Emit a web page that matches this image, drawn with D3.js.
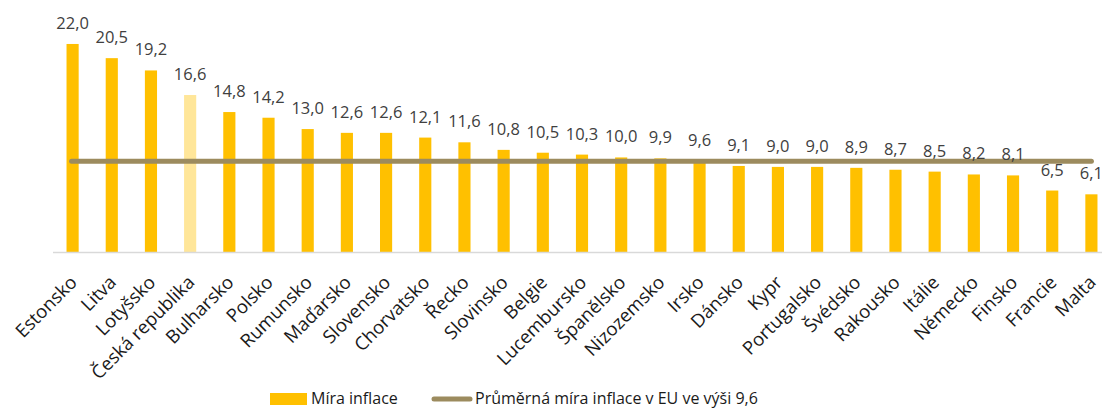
<!DOCTYPE html>
<html>
<head>
<meta charset="utf-8">
<script src="https://cdn.jsdelivr.net/npm/d3@7"></script>
<style>
    body { margin: 0; background: #fff; }
    svg { display: block; font-family: "Open Sans", sans-serif; }
    .value { font-size: 16.5px; fill: #404040; text-anchor: middle; }
    .cat { font-size: 18.5px; fill: #1a1a1a; text-anchor: end; }
    .legend text { font-size: 16px; fill: #1a1a1a; }
</style>
</head>
<body>
<div id="chart"></div>
<script>
const countries = ["Estonsko", "Litva", "Lotyšsko", "Česká republika", "Bulharsko", "Polsko",
    "Rumunsko", "Maďarsko", "Slovensko", "Chorvatsko", "Řecko", "Slovinsko", "Belgie",
    "Lucembursko", "Španělsko", "Nizozemsko", "Irsko", "Dánsko", "Kypr", "Portugalsko",
    "Švédsko", "Rakousko", "Itálie", "Německo", "Finsko", "Francie", "Malta"];
const inflation = [22.0, 20.5, 19.2, 16.6, 14.8, 14.2, 13.0, 12.6, 12.6, 12.1, 11.6, 10.8, 10.5,
    10.3, 10.0, 9.9, 9.6, 9.1, 9.0, 9.0, 8.9, 8.7, 8.5, 8.2, 8.1, 6.5, 6.1];
const euAverage = 9.6;
const highlight = "Česká republika";
const seriesNames = ["Míra inflace", "Průměrná míra inflace v EU ve výši 9,6"];

const width = 1102, height = 410;
const barColor = "#FFC000", highlightColor = "#FFE699", lineColor = "#9C8B5E";

const data = countries.map((c, i) => ({ country: c, value: inflation[i] }));

const czech = d3.formatLocale({ decimal: ",", thousands: " ", grouping: [3], currency: ["", " Kč"] });
const fmt = czech.format(".1f");

const svg = d3.select("#chart").append("svg")
    .attr("width", width)
    .attr("height", height);

const x = d3.scaleBand()
    .domain(countries)
    .range([53, 1111])
    .paddingInner(0.69)
    .paddingOuter(0.345);

const y = d3.scaleLinear()
    .domain([0, 25])
    .range([252, 15.6]);

// bars
svg.append("g").selectAll("rect")
    .data(data)
    .join("rect")
        .attr("x", d => x(d.country))
        .attr("y", d => y(d.value))
        .attr("width", x.bandwidth())
        .attr("height", d => y(0) - y(d.value))
        .attr("fill", d => d.country === highlight ? highlightColor : barColor);

// category axis line
svg.append("line")
    .attr("x1", 53).attr("x2", width)
    .attr("y1", y(0) + 0.5).attr("y2", y(0) + 0.5)
    .attr("stroke", "#D9D9D9")
    .attr("stroke-width", 1.5);

// average line
const cx = d => x(d) + x.bandwidth() / 2;
svg.append("line")
    .attr("x1", cx(countries[0]) - 1)
    .attr("x2", cx(countries[countries.length - 1]))
    .attr("y1", y(euAverage)).attr("y2", y(euAverage))
    .attr("stroke", lineColor)
    .attr("stroke-width", 5)
    .attr("stroke-linecap", "round");

// value labels
svg.append("g").selectAll("text")
    .data(data)
    .join("text")
        .attr("class", "value")
        .attr("x", d => cx(d.country))
        .attr("y", d => y(d.value) - 15)
        .text(d => fmt(d.value));

// category labels
svg.append("g").selectAll("text")
    .data(countries)
    .join("text")
        .attr("class", "cat")
        .attr("transform", d => "translate(" + (cx(d) + 1) + "," + 279 + ") rotate(-45)")
        .attr("dy", "0.35em")
        .text(d => d);

// legend
const legend = svg.append("g").attr("class", "legend");
legend.append("rect")
    .attr("x", 270).attr("y", 393)
    .attr("width", 37).attr("height", 12)
    .attr("fill", barColor);
legend.append("text")
    .attr("x", 311).attr("y", 404)
    .text(seriesNames[0]);
legend.append("line")
    .attr("x1", 434).attr("x2", 470)
    .attr("y1", 399).attr("y2", 399)
    .attr("stroke", lineColor)
    .attr("stroke-width", 5)
    .attr("stroke-linecap", "round");
legend.append("text")
    .attr("x", 475).attr("y", 404)
    .text(seriesNames[1]);
</script>
</body>
</html>
